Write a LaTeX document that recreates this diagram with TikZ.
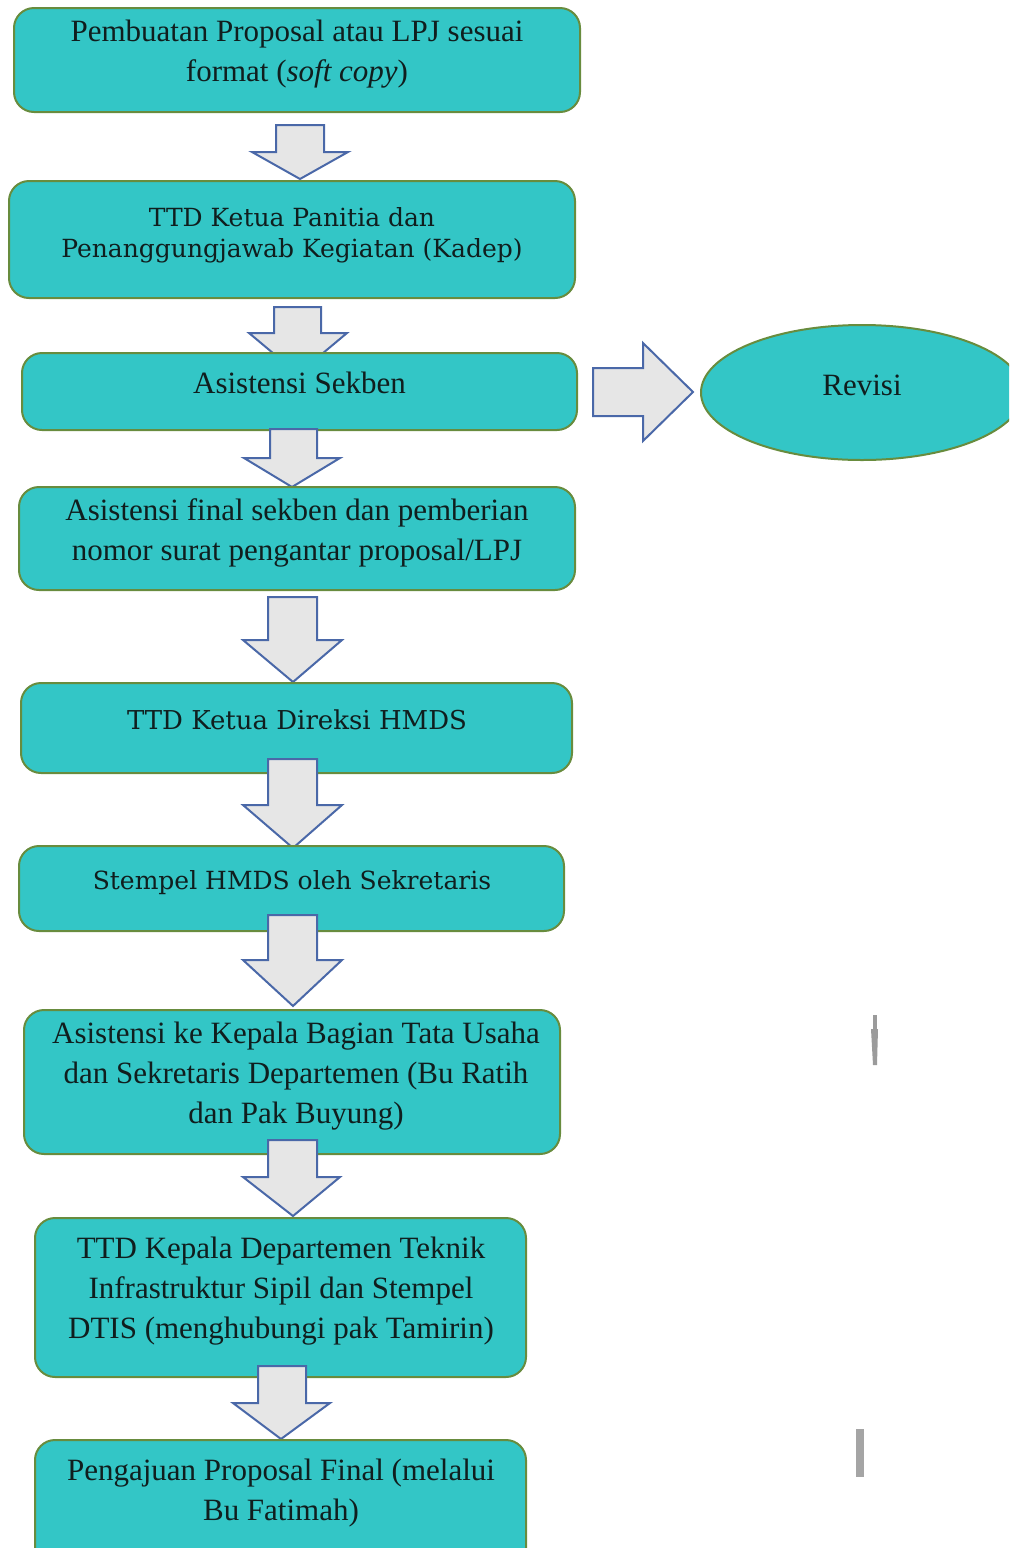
\documentclass[tikz,border=0pt]{standalone}
\usepackage{fontspec}
\setmainfont{Liberation Serif}
\newfontfamily\widefont{DejaVu Serif}
\usetikzlibrary{shapes.geometric}

\definecolor{boxfill}{RGB}{51,198,198}
\definecolor{boxline}{RGB}{104,140,62}
\definecolor{arrowfill}{RGB}{230,230,230}
\definecolor{arrowline}{RGB}{74,104,168}
\definecolor{inkcol}{RGB}{16,30,30}
\definecolor{markgray}{RGB}{155,155,155}

% block arrow pointing down:
% #1 body left, #2 body right, #3 top, #4 head base y,
% #5 head left, #6 head right, #7 tip x, #8 tip y
\newcommand\downblock[8]{%
  \draw[blockarrow] (#1,#3) -- (#2,#3) -- (#2,#4) -- (#6,#4) -- (#7,#8)
    -- (#5,#4) -- (#1,#4) -- cycle;}

\begin{document}
\begin{tikzpicture}[x=0.5pt,y=-0.5pt,
  stepbox/.style={draw=boxline, line width=1pt, fill=boxfill,
    rounded corners=10pt, inner sep=0pt},
  steptext/.style={text=inkcol, align=center, inner sep=0pt,
    font=\fontsize{15.5}{20}\selectfont},
  widetext/.style={text=inkcol, align=center, inner sep=0pt,
    font=\widefont\fontsize{12.5}{15.5}\selectfont},
  blockarrow/.style={draw=arrowline, line width=1pt, fill=arrowfill,
    line join=miter},
  endbox/.style={draw=boxline, line width=1pt, fill=boxfill,
    ellipse, inner sep=0pt}]

\clip (0,0) rectangle (1009,1548);

% step 1
\node[stepbox, minimum width=283pt, minimum height=52pt] (b1) at (297,60) {};
\node[steptext] (t1) at (297,54) {Pembuatan Proposal atau LPJ sesuai\\format (\textit{soft copy})};
\downblock{276}{324}{125}{152}{252}{348}{300}{179}

% step 2
\node[stepbox, minimum width=283pt, minimum height=58.5pt] (b2) at (292,239.5) {};
\node[widetext] (t2) at (292,235.5) {TTD Ketua Panitia dan\\Penanggungjawab Kegiatan (Kadep)};
\downblock{274}{321}{307}{333}{249}{347}{298}{374}

% step 3
\node[stepbox, minimum width=277.5pt, minimum height=38.5pt] (b3) at (299.5,391.5) {};
\node[steptext] (t3) at (299.5,383) {Asistensi Sekben};

% branch to revision
\draw[blockarrow] (593,368) -- (643,368) -- (643,343) -- (693,392)
  -- (643,441) -- (643,416) -- (593,416) -- cycle;
\node[endbox, minimum width=161pt, minimum height=67.5pt] (rev) at (862,392.5) {};
\node[steptext] (trev) at (862,385) {Revisi};

\downblock{270}{317}{429}{458}{244}{340}{292}{487}

% step 4
\node[stepbox, minimum width=278pt, minimum height=51.5pt] (b4) at (297,538.5) {};
\node[steptext] (t4) at (297,533) {Asistensi final sekben dan pemberian\\nomor surat pengantar proposal/LPJ};
\downblock{268}{317}{597}{640}{243}{342}{293}{682}

% step 5
\node[stepbox, minimum width=275.5pt, minimum height=45pt] (b5) at (296.5,728) {};
\node[widetext, font=\widefont\fontsize{13}{15.5}\selectfont] (t5) at (297,720) {TTD Ketua Direksi HMDS};
\downblock{268}{317}{759}{805}{243}{342}{293}{848}

% step 6
\node[stepbox, minimum width=272.5pt, minimum height=42.5pt] (b6) at (291.5,888.5) {};
\node[widetext] (t6) at (292,883) {Stempel HMDS oleh Sekretaris};
\downblock{268}{317}{915}{960}{243}{342}{293}{1006}

% step 7
\node[stepbox, minimum width=268pt, minimum height=72pt] (b7) at (292,1082) {};
\node[steptext] (t7) at (296,1076) {Asistensi ke Kepala Bagian Tata Usaha\\dan Sekretaris Departemen (Bu Ratih\\dan Pak Buyung)};
\downblock{268}{317}{1140}{1177}{243}{340}{293}{1216}

% step 8
\node[stepbox, minimum width=245.5pt, minimum height=79.5pt] (b8) at (280.5,1297.5) {};
\node[steptext] (t8) at (281,1291) {TTD Kepala Departemen Teknik\\Infrastruktur Sipil dan Stempel\\DTIS (menghubungi pak Tamirin)};
\downblock{258}{306}{1366}{1403}{233}{330}{281}{1439}

% step 9
\node[stepbox, minimum width=245.5pt, minimum height=70pt] (b9) at (280.5,1510) {};
\node[steptext] (t9) at (281,1493) {Pengajuan Proposal Final (melalui\\Bu Fatimah)};

% stray grey marks at the right
\fill[markgray] (872.5,1015) rectangle (876.5,1029);
\fill[markgray] (871,1029) -- (878,1029) -- (877,1065) -- (873,1065) -- cycle;
\fill[markgray!90] (856,1429) rectangle (864,1477);
\end{tikzpicture}
\end{document}
